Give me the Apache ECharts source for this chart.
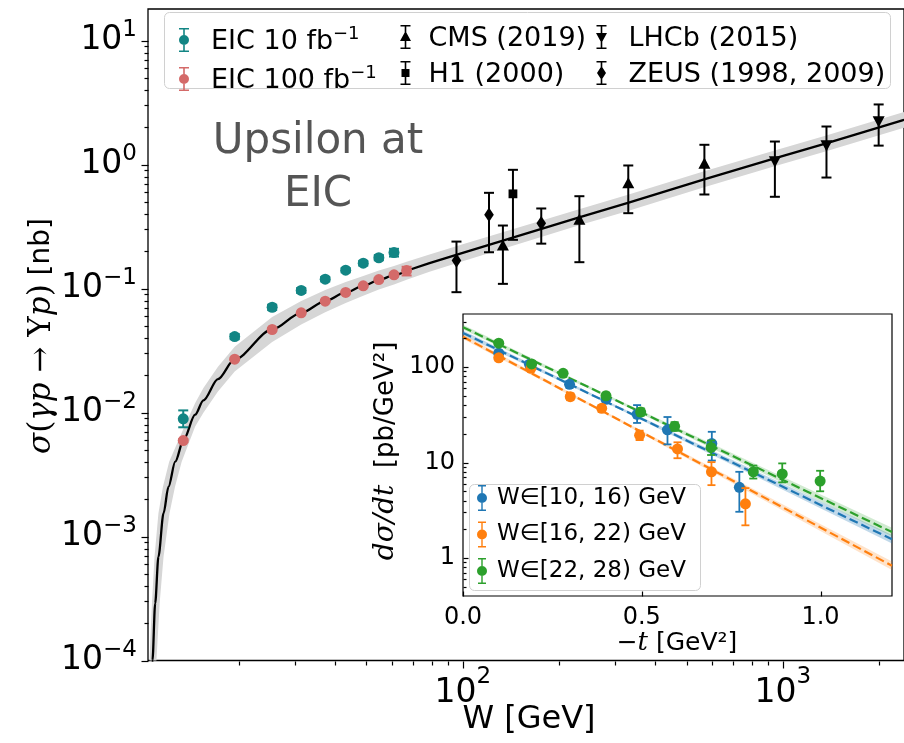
<!DOCTYPE html>
<html><head><meta charset="utf-8">
<script src="https://cdn.jsdelivr.net/npm/echarts@6/dist/echarts.min.js"></script>
<style>html,body{margin:0;padding:0;background:#fff}#c{width:904px;height:743px}</style>
</head><body><div id="c"></div>
<script>
// ---------- main panel data ----------
const eic10W = [13.4, 19.4, 25.4, 31.3, 37.2, 43.1, 48.9, 54.7, 61.0];
const eic10S = [0.0089, 0.041, 0.0706, 0.0964, 0.119, 0.1406, 0.160, 0.177, 0.195];
const eic10Lo = [0.0076, 0.039, 0.067, 0.092, 0.114, 0.135, 0.153, 0.169, 0.181];
const eic10Hi = [0.0104, 0.043, 0.074, 0.101, 0.124, 0.146, 0.167, 0.186, 0.209];

const eic100W = [13.4, 19.4, 25.4, 31.3, 37.2, 43.1, 48.9, 54.7, 61.0, 66.8];
const eic100S = [0.00594, 0.0269, 0.0467, 0.0637, 0.0791, 0.0929, 0.105, 0.118, 0.129, 0.1396];
const eic100Lo = [0.0058, 0.0265, 0.046, 0.0628, 0.078, 0.0915, 0.1033, 0.1155, 0.125, 0.1274];
const eic100Hi = [0.0061, 0.0273, 0.0475, 0.0646, 0.0802, 0.0943, 0.1068, 0.1205, 0.133, 0.1497];

const zeusW = [95.6, 120.8, 175.9];
const zeusS = [0.168, 0.393, 0.336];
const zeusLo = [0.0934, 0.196, 0.230];
const zeusHi = [0.239, 0.591, 0.442];

const h1W = [143.5];
const h1S = [0.580];
const h1Lo = [0.247];
const h1Hi = [0.906];

const cmsW = [133.5, 231.4, 328.9, 568.6];
const cmsS = [0.219, 0.354, 0.694, 1.0];
const cmsLo = [0.109, 0.163, 0.405, 0.573];
const cmsHi = [0.322, 0.555, 0.982, 1.442];

const lhcbW = [944, 1368, 1991];
const lhcbS = [1.077, 1.449, 2.264];
const lhcbLo = [0.549, 0.785, 1.42];
const lhcbHi = [1.532, 2.025, 3.05];

// fit curve (low-W part and high-W part) and its uncertainty band
const fitLowW = [10.68, 10.74, 10.95, 11.21, 11.63, 12.05, 12.65, 13.42, 14.6, 15.49, 17.2, 19.4, 25.4, 31.3, 37.2, 43.1, 48.9, 54.7, 61.0, 66.8];
const fitLowS = [6.6e-5, 1.0e-4, 2.89e-4, 6.87e-4, 1.54e-3, 2.52e-3, 4.01e-3, 6.0e-3, 9.6e-3, 0.01252, 0.01856, 0.0269, 0.0467, 0.0637, 0.0791, 0.0929, 0.105, 0.117, 0.128, 0.139];
const fitHighW = [66.8, 78.75, 100, 231, 328, 567.5, 942, 1365, 2360, 2450];
const fitHighS = [0.139, 0.160, 0.194, 0.375, 0.49, 0.76, 1.12, 1.48, 2.27, 2.33];
const bandUpW = [10.46, 10.51, 10.70, 10.90, 11.21, 11.58, 12.11, 13.42, 14.6, 15.49, 17.2, 19.4, 25.4, 31.3, 37.2, 43.1, 48.9, 54.7, 61.0, 66.8, 78.75, 100, 231, 328, 567.5, 942, 1365, 2360, 2450];
const bandUpS = [5e-5, 1e-4, 2.89e-4, 6.87e-4, 1.54e-3, 2.52e-3, 4.01e-3, 7.4e-3, 0.01195, 0.01576, 0.02337, 0.0339, 0.0588, 0.0793, 0.0973, 0.113, 0.1262, 0.1397, 0.1518, 0.164, 0.188, 0.227, 0.435, 0.569, 0.881, 1.298, 1.715, 2.631, 2.70];
const bandLoW = [11.0, 11.05, 11.31, 11.63, 12.14, 12.63, 13.25, 14.6, 15.49, 17.2, 19.4, 25.4, 31.3, 37.2, 43.1, 48.9, 54.7, 61.0, 66.8, 78.75, 100, 231, 328, 567.5, 942, 1365, 2360, 2450];
const bandLoS = [6e-5, 1e-4, 2.89e-4, 6.87e-4, 1.54e-3, 2.52e-3, 4.01e-3, 7.7e-3, 0.00994, 0.01474, 0.02137, 0.0371, 0.0512, 0.0643, 0.0764, 0.0874, 0.098, 0.1079, 0.1178, 0.1362, 0.166, 0.323, 0.422, 0.656, 0.966, 1.277, 1.959, 2.01];

// ---------- inset data ----------
const tBlue = [0.10, 0.186, 0.298, 0.40, 0.487, 0.572, 0.696, 0.773];
const vBlue = [140, 107, 66, 46, 32, 22, 15.8, 5.5];
const loBlue = [129, 99, 61, 42.5, 26, 15.5, 10.5, 3.05];
const hiBlue = [149, 115, 71, 49.5, 40, 30, 21, 8.0];

const tOrange = [0.10, 0.19, 0.30, 0.388, 0.494, 0.60, 0.695, 0.79];
const vOrange = [125, 97, 49, 37, 19.3, 13.9, 8.0, 3.7];
const loOrange = [117, 91, 45, 34, 17.2, 11.1, 5.8, 2.2];
const hiOrange = [133, 103, 53, 40, 21.6, 16.3, 10.1, 5.4];

const tGreen = [0.10, 0.192, 0.28, 0.40, 0.497, 0.592, 0.694, 0.812, 0.893, 0.999];
const vGreen = [178, 108, 86, 50, 33.8, 24, 14.4, 8.0, 7.6, 6.4];
const loGreen = [168, 102, 81, 46.5, 31, 21.5, 12, 6.8, 6.2, 5.0];
const hiGreen = [189, 115, 91, 54, 37, 26.5, 17, 9.3, 9.8, 8.2];

const fitT = [0, 0.4, 1.2];
const fitGreen = [262, 50.4, 1.87];
const fitGreenUp = [277.5, 51.8, 2.07];
const fitGreenLo = [247.4, 49.0, 1.69];
const fitBlue = [228, 43.4, 1.57];
const fitBlueUp = [241.4, 44.6, 1.74];
const fitBlueLo = [215.3, 42.2, 1.416];
const fitOrange = [208, 33.0, 0.83];
const fitOrangeUp = [220.3, 33.9, 0.92];
const fitOrangeLo = [196.4, 32.1, 0.748];

// tick values
const mainXMajor = [100, 1000];
const mainYMajor = [1e-4, 1e-3, 1e-2, 1e-1, 1, 10];
const insetXMajor = [0, 0.5, 1.0];
const insetYMajor = [1, 10, 100];

// ---------- layout / style ----------
const W_MIN = 10.4, W_MAX = 2389, S_MIN = 1e-4, S_MAX = 17.95;
const T_MIN = 0, T_MAX = 1.2, V_MIN = 0.4, V_MAX = 360;
const TEAL = '#128584', RED = '#d46a69', BAND = '#d6d6d6';
const C_BLUE = '#1f77b4', C_ORANGE = '#ff7f0e', C_GREEN = '#2ca02c';
const DJ = 'DejaVu Sans', DJS = 'DejaVu Serif';

function minorList(lo, hi) {
  const out = [];
  for (let e = Math.floor(Math.log10(lo)); e <= Math.ceil(Math.log10(hi)); e++) {
    for (let m = 2; m <= 9; m++) {
      const v = +(m * Math.pow(10, e)).toPrecision(6);
      if (v > lo && v < hi) out.push(v);
    }
  }
  return out;
}

function marker(shape, p, r, c) {
  const x = p[0], y = p[1];
  if (shape === 'circle') return {type: 'circle', shape: {cx: x, cy: y, r: r}, style: {fill: c}};
  let pts;
  if (shape === 'up') pts = [[x, y - r * 1.15], [x + r, y + r * 0.7], [x - r, y + r * 0.7]];
  else if (shape === 'down') pts = [[x, y + r * 1.15], [x + r, y - r * 0.7], [x - r, y - r * 0.7]];
  else if (shape === 'square') pts = [[x - r * 0.8, y - r * 0.8], [x + r * 0.8, y - r * 0.8], [x + r * 0.8, y + r * 0.8], [x - r * 0.8, y + r * 0.8]];
  else pts = [[x, y - r * 1.2], [x + r * 0.8, y], [x, y + r * 1.2], [x - r * 0.8, y]];
  return {type: 'polygon', shape: {points: pts}, style: {fill: c}};
}

function errSeries(name, xs, ys, los, his, o) {
  return {
    type: 'custom', name: name, xAxisIndex: o.g, yAxisIndex: o.g, clip: false, z: o.z || 6,
    itemStyle: {color: o.color},
    data: xs.map((x, i) => [x, ys[i], los[i], his[i]]),
    encode: {x: 0, y: 1},
    renderItem: function (params, api) {
      const p = api.coord([api.value(0), api.value(1)]);
      const pl = api.coord([api.value(0), api.value(2)]);
      const ph = api.coord([api.value(0), api.value(3)]);
      const ec = o.errColor || o.color, lw = o.lw, cw = o.cap;
      const st = {stroke: ec, lineWidth: lw};
      return {type: 'group', children: [
        {type: 'line', shape: {x1: p[0], y1: ph[1], x2: p[0], y2: pl[1]}, style: st},
        {type: 'line', shape: {x1: p[0] - cw, y1: ph[1], x2: p[0] + cw, y2: ph[1]}, style: st},
        {type: 'line', shape: {x1: p[0] - cw, y1: pl[1], x2: p[0] + cw, y2: pl[1]}, style: st},
        marker(o.shape, p, o.r, o.color)
      ]};
    }
  };
}

function bandSeries(g, upX, upY, loX, loY, color, z) {
  return {
    type: 'custom', xAxisIndex: g, yAxisIndex: g, clip: true, silent: true, z: z,
    data: [[upX[0], upY[0]]], encode: {x: 0, y: 1},
    renderItem: function (params, api) {
      const pts = [];
      for (let i = 0; i < upX.length; i++) pts.push(api.coord([upX[i], upY[i]]));
      for (let i = loX.length - 1; i >= 0; i--) pts.push(api.coord([loX[i], loY[i]]));
      return {type: 'polygon', shape: {points: pts}, style: {fill: color}};
    }
  };
}

// tick marks: dir 'down' | 'left' | 'up' | 'right'
function tickSeries(g, vals, isX, anchor, len, dir) {
  return {
    type: 'custom', xAxisIndex: g, yAxisIndex: g, clip: false, silent: true, z: 8,
    data: vals.map(v => isX ? [v, anchor] : [anchor, v]), encode: {x: 0, y: 1},
    renderItem: function (params, api) {
      const p = api.coord([api.value(0), api.value(1)]);
      const x = Math.round(p[0]) + 0.5, y = Math.round(p[1]) + 0.5;
      let x2 = x, y2 = y;
      if (dir === 'down') y2 = y + len; else if (dir === 'up') y2 = y - len;
      else if (dir === 'left') x2 = x - len; else x2 = x + len;
      return {type: 'line', shape: {x1: x, y1: y, x2: x2, y2: y2}, style: {stroke: '#000', lineWidth: 1.2}};
    }
  };
}

function powLabel(v) {
  const e = Math.round(Math.log10(v));
  return '{b|10}{s|' + (e < 0 ? '\u2212' + (-e) : e) + '}';
}
const powRichX = {
  b: {fontFamily: DJ, fontSize: 33, color: '#000', lineHeight: 44, verticalAlign: 'bottom'},
  s: {fontFamily: DJ, fontSize: 23, color: '#000', lineHeight: 18, verticalAlign: 'top'}
};
const powRichY = {
  b: {fontFamily: DJ, fontSize: 33, color: '#000', lineHeight: 44, verticalAlign: 'bottom', padding: [0, 0, 6, 0]},
  s: {fontFamily: DJ, fontSize: 23, color: '#000', lineHeight: 18, verticalAlign: 'top'}
};

const BAR = 'M1,0H11V1.6H1Z M1,22.4H11V24H1Z M5.2,1H6.8V23H5.2Z ';
const ICON = {
  circle: 'path://' + BAR + 'M6,7A5,5,0,1,1,6,17A5,5,0,1,1,6,7Z',
  up: 'path://' + BAR + 'M6,6L11.5,16H0.5Z',
  down: 'path://' + BAR + 'M0.5,8H11.5L6,18Z',
  square: 'path://' + BAR + 'M2,8H10V16H2Z',
  diamond: 'path://' + BAR + 'M6,5L10.5,12L6,19L1.5,12Z'
};
const ICON_IN = 'path://M2,0H10V1.4H2Z M2,24.6H10V26H2Z M5.3,1H6.7V25H5.3Z M6,8A5,5,0,1,1,6,18A5,5,0,1,1,6,8Z';

const legRich = {
  t: {fontFamily: DJ, fontSize: 27, color: '#000', lineHeight: 30, verticalAlign: 'bottom'},
  s: {fontFamily: DJ, fontSize: 18, color: '#000', lineHeight: 18, verticalAlign: 'top'}
};
function legFmt(name) {
  if (name.indexOf(' fb-1') > 0) return '{t|' + name.replace(' fb-1', ' fb') + '}{s|\u22121}';
  return '{t|' + name + '}';
}
function mainLegend(left, pad, items) {
  return {
    orient: 'vertical', left: left, top: 25, itemWidth: 26, itemHeight: 24, itemGap: 9,
    selectedMode: false, padding: 0, formatter: legFmt,
    textStyle: {rich: legRich, padding: [0, 0, 0, pad]},
    data: items
  };
}

const option = {
  animation: false,
  backgroundColor: '#fff',
  grid: [
    {left: 148, top: 9, width: 758, height: 651.5, show: true, borderColor: '#000', borderWidth: 1.3, backgroundColor: 'transparent'},
    {left: 463, top: 314, width: 429, height: 282, show: true, borderColor: '#000', borderWidth: 1.2, backgroundColor: '#fff'}
  ],
  xAxis: [
    {type: 'log', logBase: 10, gridIndex: 0, min: W_MIN, max: W_MAX,
     axisLine: {show: false}, axisTick: {show: false}, splitLine: {show: false},
     axisLabel: {formatter: powLabel, rich: powRichX, margin: 5, showMinLabel: false, showMaxLabel: false}},
    {type: 'value', gridIndex: 1, min: T_MIN, max: T_MAX, interval: 0.5,
     axisLine: {show: false}, axisTick: {show: false}, splitLine: {show: false},
     axisLabel: {formatter: v => v.toFixed(1), fontFamily: DJ, fontSize: 24, color: '#000', margin: 10, showMaxLabel: false}}
  ],
  yAxis: [
    {type: 'log', logBase: 10, gridIndex: 0, min: S_MIN, max: S_MAX,
     axisLine: {show: false}, axisTick: {show: false}, splitLine: {show: false},
     axisLabel: {formatter: powLabel, rich: powRichY, margin: 11, showMinLabel: true, showMaxLabel: false}},
    {type: 'log', logBase: 10, gridIndex: 1, min: V_MIN, max: V_MAX,
     axisLine: {show: false}, axisTick: {show: false}, splitLine: {show: false},
     axisLabel: {formatter: v => String(Math.round(v)), fontFamily: DJ, fontSize: 24, color: '#000', margin: 8, showMinLabel: false, showMaxLabel: false}}
  ],
  legend: [
    mainLegend(179, 9, [{name: 'EIC 10 fb-1', icon: ICON.circle}, {name: 'EIC 100 fb-1', icon: ICON.circle}]),
    mainLegend(400, 5, [{name: 'CMS (2019)', icon: ICON.up}, {name: 'H1 (2000)', icon: ICON.square}]),
    mainLegend(596, 9, [{name: 'LHCb (2015)', icon: ICON.down}, {name: 'ZEUS (1998, 2009)', icon: ICON.diamond}]),
    {orient: 'vertical', left: 477, top: 485, itemWidth: 16, itemHeight: 26, itemGap: 10.5, padding: 0,
     selectedMode: false, textStyle: {fontFamily: DJ, fontSize: 23, color: '#000', padding: [0, 0, 0, 2]},
     data: [{name: 'W\u2208[10, 16) GeV', icon: ICON_IN}, {name: 'W\u2208[16, 22) GeV', icon: ICON_IN}, {name: 'W\u2208[22, 28) GeV', icon: ICON_IN}]}
  ],
  graphic: [
    {type: 'rect', z: 3, shape: {x: 164.5, y: 12.5, width: 726, height: 76, r: 5}, style: {fill: 'rgba(255,255,255,0.85)', stroke: '#d0d0d0', lineWidth: 1}},
    {type: 'rect', z: 3, shape: {x: 469.5, y: 484.5, width: 231, height: 106, r: 5}, style: {fill: 'rgba(255,255,255,0.85)', stroke: '#d0d0d0', lineWidth: 1}},
    {type: 'text', z: 10, x: 318, y: 169, style: {text: 'Upsilon at\nEIC', fill: '#555', font: '42px "DejaVu Sans"', lineHeight: 53, align: 'center', verticalAlign: 'middle'}},
    {type: 'text', z: 10, x: 529, y: 720, style: {text: 'W [GeV]', fill: '#000', font: '32px "DejaVu Sans"', align: 'center', verticalAlign: 'middle'}},
    {type: 'text', z: 10, x: 42, y: 336, rotation: Math.PI / 2,
     style: {text: '{i|\u03c3}{r|(}{i|\u03b3p}{r| \u2192 \u03a5}{i|p}{r|)}{n| [nb]}', align: 'center', verticalAlign: 'middle',
       rich: {i: {fontFamily: DJS, fontStyle: 'italic', fontSize: 31, fill: '#000'}, r: {fontFamily: DJS, fontSize: 31, fill: '#000'}, n: {fontFamily: DJ, fontSize: 28, fill: '#000'}}}},
    {type: 'text', z: 10, x: 386, y: 451, rotation: Math.PI / 2,
     style: {text: '{i|d\u03c3/dt}{n|  [pb/GeV\u00b2]}', align: 'center', verticalAlign: 'middle',
       rich: {i: {fontFamily: DJS, fontStyle: 'italic', fontSize: 28, fill: '#000'}, n: {fontFamily: DJ, fontSize: 26, fill: '#000'}}}},
    {type: 'text', z: 10, x: 677, y: 643,
     style: {text: '{n|\u2212}{i|t}{n| [GeV\u00b2]}', align: 'center', verticalAlign: 'middle',
       rich: {i: {fontFamily: DJS, fontStyle: 'italic', fontSize: 26, fill: '#000'}, n: {fontFamily: DJ, fontSize: 25, fill: '#000'}}}}
  ],
  series: [
    bandSeries(0, bandUpW, bandUpS, bandLoW, bandLoS, BAND, 1),
    {type: 'line', xAxisIndex: 0, yAxisIndex: 0, data: fitLowW.map((w, i) => [w, fitLowS[i]]), showSymbol: false, silent: true,
     smooth: 0.3, smoothMonotone: 'x', clip: true, z: 3, lineStyle: {color: '#000', width: 2.3}},
    {type: 'line', xAxisIndex: 0, yAxisIndex: 0, data: fitHighW.map((w, i) => [w, fitHighS[i]]), showSymbol: false, silent: true,
     smooth: false, clip: true, z: 3, lineStyle: {color: '#000', width: 2.3}},
    errSeries('EIC 10 fb-1', eic10W, eic10S, eic10Lo, eic10Hi, {g: 0, color: TEAL, shape: 'circle', r: 5.5, lw: 2, cap: 5}),
    errSeries('EIC 100 fb-1', eic100W, eic100S, eic100Lo, eic100Hi, {g: 0, color: RED, shape: 'circle', r: 5.5, lw: 2, cap: 5}),
    errSeries('CMS (2019)', cmsW, cmsS, cmsLo, cmsHi, {g: 0, color: '#000', shape: 'up', r: 6, lw: 2, cap: 5}),
    errSeries('H1 (2000)', h1W, h1S, h1Lo, h1Hi, {g: 0, color: '#000', shape: 'square', r: 5.5, lw: 2, cap: 5}),
    errSeries('LHCb (2015)', lhcbW, lhcbS, lhcbLo, lhcbHi, {g: 0, color: '#000', shape: 'down', r: 6, lw: 2, cap: 5}),
    errSeries('ZEUS (1998, 2009)', zeusW, zeusS, zeusLo, zeusHi, {g: 0, color: '#000', shape: 'diamond', r: 6, lw: 2, cap: 5}),
    // inset
    bandSeries(1, fitT, fitBlueUp, fitT, fitBlueLo, 'rgba(31,119,180,0.28)', 2),
    bandSeries(1, fitT, fitOrangeUp, fitT, fitOrangeLo, 'rgba(255,127,14,0.22)', 2),
    bandSeries(1, fitT, fitGreenUp, fitT, fitGreenLo, 'rgba(44,160,44,0.22)', 2),
    {type: 'line', xAxisIndex: 1, yAxisIndex: 1, data: fitT.map((t, i) => [t, fitBlue[i]]), showSymbol: false, silent: true, z: 3, lineStyle: {color: C_BLUE, width: 2.2, type: [9, 4]}},
    {type: 'line', xAxisIndex: 1, yAxisIndex: 1, data: fitT.map((t, i) => [t, fitOrange[i]]), showSymbol: false, silent: true, z: 3, lineStyle: {color: C_ORANGE, width: 2.2, type: [9, 4]}},
    {type: 'line', xAxisIndex: 1, yAxisIndex: 1, data: fitT.map((t, i) => [t, fitGreen[i]]), showSymbol: false, silent: true, z: 3, lineStyle: {color: C_GREEN, width: 2.2, type: [9, 4]}},
    errSeries('W\u2208[10, 16) GeV', tBlue, vBlue, loBlue, hiBlue, {g: 1, color: C_BLUE, shape: 'circle', r: 5.5, lw: 1.8, cap: 4, z: 5}),
    errSeries('W\u2208[16, 22) GeV', tOrange, vOrange, loOrange, hiOrange, {g: 1, color: C_ORANGE, shape: 'circle', r: 5.5, lw: 1.8, cap: 4, z: 5}),
    errSeries('W\u2208[22, 28) GeV', tGreen, vGreen, loGreen, hiGreen, {g: 1, color: C_GREEN, shape: 'circle', r: 5.5, lw: 1.8, cap: 4, z: 5}),
    // ticks
    tickSeries(0, mainXMajor, true, S_MIN, 7, 'down'),
    tickSeries(0, minorList(W_MIN, W_MAX), true, S_MIN, 4, 'down'),
    tickSeries(0, mainYMajor, false, W_MIN, 7, 'left'),
    tickSeries(0, minorList(S_MIN, S_MAX), false, W_MIN, 4, 'left'),
    tickSeries(1, insetXMajor, true, V_MIN, 5, 'up'),
    tickSeries(1, insetYMajor, false, T_MIN, 5, 'right'),
    tickSeries(1, minorList(V_MIN, V_MAX), false, T_MIN, 3, 'right')
  ]
};
const chart = echarts.init(document.getElementById('c'), null, {renderer: 'canvas'});
chart.setOption(option);
</script></body></html>
